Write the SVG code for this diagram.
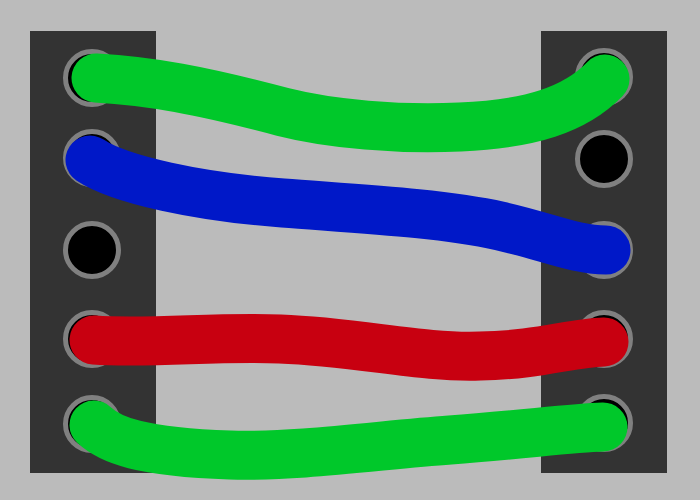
<svg xmlns="http://www.w3.org/2000/svg" width="700" height="500" viewBox="0 0 700 500">
<style>
.panel{fill:#333333}
.hole{fill:#000000;stroke:#808080;stroke-width:5}
.wire{fill:none;stroke-width:49;stroke-linecap:round;stroke-linejoin:round}
</style>
<rect x="0" y="0" width="700" height="500" fill="#bbbbbb"/>
<g id="left-panel">
<rect class="panel" x="30" y="31" width="126" height="442"/>
<circle class="hole" cx="92" cy="78" r="26.5"/>
<circle class="hole" cx="92" cy="158" r="26.5"/>
<circle class="hole" cx="92" cy="250" r="26.5"/>
<circle class="hole" cx="92" cy="339" r="26.5"/>
<circle class="hole" cx="92" cy="424" r="26.5"/>
</g>
<g id="right-panel">
<rect class="panel" x="541" y="31" width="126" height="442"/>
<circle class="hole" cx="604" cy="77" r="26.5"/>
<circle class="hole" cx="604" cy="159" r="26.5"/>
<circle class="hole" cx="604" cy="250" r="26.5"/>
<circle class="hole" cx="604" cy="339" r="26.5"/>
<circle class="hole" cx="604" cy="423" r="26.5"/>
</g>
<g id="wires">
<path id="wire-green-top" class="wire" stroke="#00c82a" d="M 96 78 C 150 81, 200 90, 283 112 C 330 124, 400 130, 460 127 C 530 124, 575 110, 605 79"/>
<path id="wire-blue" class="wire" stroke="#0018c8" d="M 90 160 C 120 180, 200 197, 283 203 C 360 209, 440 213, 500 226 C 545 236, 575 250, 606 250"/>
<path id="wire-red" class="wire" stroke="#c80010" d="M 94 340 C 150 344, 220 336, 280 339 C 360 342, 420 358, 480 356 C 540 355, 570 343, 604 342"/>
<path id="wire-green-bottom" class="wire" stroke="#00c82a" d="M 94 425 C 110 440, 140 452, 230 455 C 300 457, 380 445, 450 440 C 520 435, 570 428, 603 427"/>
</g>
</svg>
